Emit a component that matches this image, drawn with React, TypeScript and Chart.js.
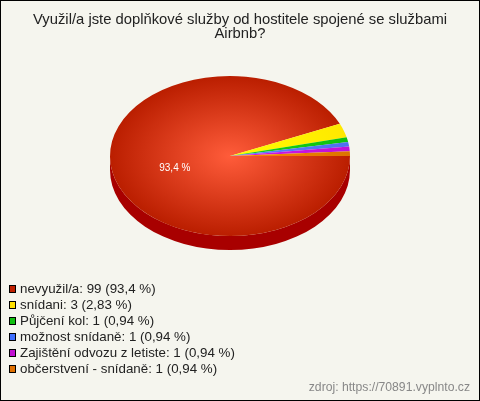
import React, { useEffect, useRef } from "react";
import { Chart, registerables } from "chart.js";

Chart.register(...registerables);

const titleLines = ["Využil/a jste doplňkové služby od hostitele spojené se službami", "Airbnb?"];
const categories = ["nevyužil/a", "snídani", "Půjčení kol", "možnost snídaně", "Zajištění odvozu z letiste", "občerstvení - snídaně"];
const counts = [99, 3, 1, 1, 1, 1];
const percents = ["93,4", "2,83", "0,94", "0,94", "0,94", "0,94"];
const innerColors = ["#ff5c3a", "#ffff00", "#14d414", "#5a80ff", "#d018e8", "#ff8c00"];
const outerColors = ["#ba1e00", "#ffe800", "#10c010", "#4f70f0", "#c010d8", "#dc7400"];
const swatchColors = ["#c02000", "#ffe000", "#10c010", "#4070ff", "#c010d0", "#e07000"];
const sourceText = "zdroj: https://70891.vyplnto.cz";

const FONT = '"Liberation Sans", Arial, sans-serif';
const PAPER = "#f5f5ee";
const WALL = "#a80000";
const SQUASH = 80 / 120;
const DEPTH = 14;

const stage = {
  id: "stage",
  afterLayout(chart: any) {
    const t = chart.titleBlock;
    if (t) {
      t.left = 0;
      t.right = chart.width;
      t.width = chart.width;
    }
  },
  beforeDraw(chart: any) {
    const { ctx, width, height } = chart;
    ctx.save();
    ctx.fillStyle = PAPER;
    ctx.fillRect(0, 0, width, height);
    ctx.strokeStyle = "#000";
    ctx.lineWidth = 1;
    ctx.strokeRect(0.5, 0.5, width - 1, height - 1);
    ctx.restore();
  },
  beforeDatasetsDraw(chart: any) {
    const { ctx } = chart;
    const arc = chart.getDatasetMeta(0).data[0];
    const { x, y, outerRadius: r } = arc;
    const ry = r * SQUASH;
    ctx.save();
    ctx.fillStyle = WALL;
    ctx.beginPath();
    ctx.ellipse(x, y, r, ry, 0, 0, Math.PI);
    ctx.ellipse(x, y + DEPTH, r, ry, 0, Math.PI, 0, true);
    ctx.closePath();
    ctx.fill();
    ctx.restore();
    ctx.save();
    ctx.translate(0, y);
    ctx.scale(1, SQUASH);
    ctx.translate(0, -y);
  },
  afterDatasetsDraw(chart: any) {
    const { ctx, width } = chart;
    ctx.restore();
    const arc = chart.getDatasetMeta(0).data[0];
    ctx.save();
    ctx.fillStyle = "#fff";
    ctx.font = `10px ${FONT}`;
    ctx.textAlign = "center";
    ctx.textBaseline = "middle";
    ctx.fillText(`${percents[0]} %`, arc.x - arc.outerRadius * 0.46, arc.y + 12);
    ctx.textAlign = "left";
    ctx.font = `13.33px ${FONT}`;
    categories.forEach((c, i) => {
      const cy = 289 + i * 16;
      ctx.fillStyle = swatchColors[i];
      ctx.fillRect(9, cy - 4, 7, 8);
      ctx.strokeStyle = "#000";
      ctx.lineWidth = 1;
      ctx.strokeRect(9.5, cy - 3.5, 6, 7);
      ctx.fillStyle = "#222";
      ctx.fillText(`${c}: ${counts[i]} (${percents[i]} %)`, 20, cy);
    });
    ctx.textAlign = "right";
    ctx.font = `12.2px ${FONT}`;
    ctx.fillStyle = "#888";
    ctx.fillText(sourceText, width - 10, 388);
    ctx.restore();
  },
};

function sliceFill(c: any) {
  const { chart, dataIndex } = c;
  const area = chart.chartArea;
  if (!area) return innerColors[dataIndex];
  const x = (area.left + area.right) / 2;
  const y = (area.top + area.bottom) / 2;
  const g = chart.ctx.createRadialGradient(x, y, 0, x, y, 120);
  g.addColorStop(0, innerColors[dataIndex]);
  g.addColorStop(1, outerColors[dataIndex]);
  return g;
}

export default function App() {
  const ref = useRef<HTMLCanvasElement>(null);
  useEffect(() => {
    document.body.style.margin = "0";
    const chart = new Chart(ref.current!, {
      type: "pie",
      data: {
        labels: categories,
        datasets: [
          {
            data: counts,
            backgroundColor: sliceFill,
            borderWidth: 0,
            clip: false,
            radius: 120,
            rotation: 90,
          } as any,
        ],
      },
      options: {
        responsive: false,
        animation: false,
        devicePixelRatio: 1,
        layout: { padding: { left: 110, right: 130, top: 0, bottom: 130 } },
        plugins: {
          legend: { display: false },
          tooltip: { enabled: false },
          title: {
            display: true,
            text: titleLines,
            color: "#222",
            font: { family: FONT, size: 14.8, weight: "normal", lineHeight: 0.95 },
            padding: { top: 13, bottom: 0 },
          },
        },
      },
      plugins: [stage],
    } as any);
    return () => chart.destroy();
  }, []);
  return <canvas ref={ref} width={480} height={401} style={{ display: "block", width: 480, height: 401 }} />;
}
